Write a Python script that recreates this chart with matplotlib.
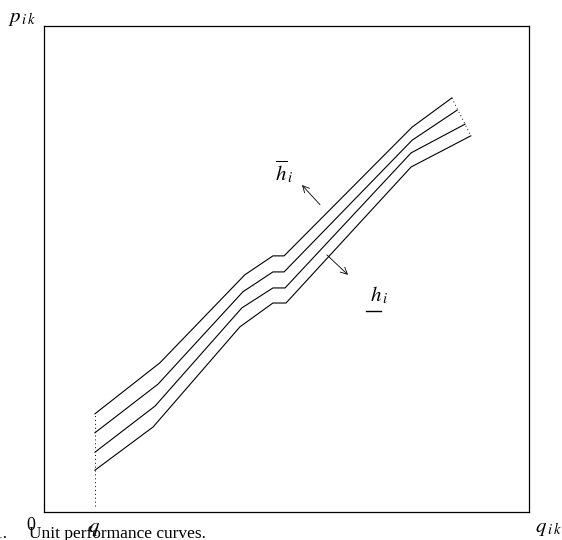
import matplotlib
matplotlib.use('Agg')
import matplotlib.pyplot as plt
from matplotlib.lines import Line2D

plt.rcParams['font.family'] = ['Liberation Serif', 'DejaVu Serif']
plt.rcParams['mathtext.fontset'] = 'stix'

# ── Piecewise-linear unit performance curves (q, p), 0-100 scale ───────────
Q_TOP = [10.5, 23.9, 41.4, 47.2, 49.5, 75.9, 84.1]
P_TOP = [20.2, 30.7, 48.8, 52.7, 52.7, 79.2, 85.2]

Q_2 = [10.5, 23.5, 41.0, 47.2, 49.5, 75.9, 85.2]
P_2 = [16.3, 26.3, 45.3, 49.4, 49.4, 76.5, 82.7]

Q_3 = [10.5, 22.9, 40.8, 47.2, 49.7, 75.7, 86.8]
P_3 = [12.3, 21.8, 42.0, 46.1, 46.1, 73.9, 79.8]

Q_BOT = [10.5, 22.5, 40.4, 47.2, 49.9, 75.7, 88.0]
P_BOT = [8.6, 17.5, 38.1, 43.0, 43.0, 71.0, 77.4]

CURVES = [(Q_TOP, P_TOP), (Q_2, P_2), (Q_3, P_3), (Q_BOT, P_BOT)]

# minimum output q and the lower end of the dotted guide
Q_MIN = 10.5
P_FLOOR = 1.2

# arrows: (tail, head) for upper and lower envelope
ARROW_UP = ((57.3, 62.8), (52.8, 67.7))
ARROW_DN = ((57.9, 53.3), (63.1, 48.4))

fig = plt.figure(figsize=(5.62, 5.40), dpi=100)
ax = fig.add_axes([44 / 562, 28 / 540, 485 / 562, 486 / 540])
ax.set_xlim(0, 100)
ax.set_ylim(0, 100)
ax.set_xticks([])
ax.set_yticks([])
for s in ax.spines.values():
    s.set_linewidth(0.9)

for q, p in CURVES:
    ax.plot(q, p, color='black', linewidth=0.8)

# dotted vertical line at q min
ax.plot([Q_MIN, Q_MIN], [P_FLOOR, P_TOP[0]], color='black',
        linestyle=(0, (1, 3)), linewidth=0.7)
# dotted line joining the curve ends
ax.plot([Q_TOP[-1], Q_BOT[-1]], [P_TOP[-1], P_BOT[-1]], color='black',
        linestyle=(0, (1, 3)), linewidth=0.7)

for tail, head in (ARROW_UP, ARROW_DN):
    ax.annotate('', xy=head, xytext=tail,
                arrowprops=dict(arrowstyle='->', color='black', lw=0.6,
                                mutation_scale=12))

ax.text(49.5, 70.0, r'$\overline{h}_{\,i}$', fontsize=15,
        ha='center', va='center')
ax.text(69.0, 44.5, r'$h_{\,i}$', fontsize=15,
        ha='center', va='center')
# underline for the lower envelope label
ax.add_line(Line2D([66.4, 69.4], [41.3, 41.3], color='black', linewidth=1.0))

fig.text(8 / 562, 1 - 22 / 540, r'$p_{\,i\,k}$', fontsize=15,
         ha='left', va='baseline')
fig.text(535 / 562, 1 - 532 / 540, r'$q_{\,i\,k}$', fontsize=15,
         ha='left', va='baseline')
fig.text(31 / 562, 1 - 530 / 540, '0', fontsize=13,
         ha='center', va='baseline')
fig.text(88 / 562, 1 - 532 / 540, r'$q$', fontsize=15,
         ha='left', va='baseline')
fig.text(-6 / 562, 1 - 538 / 540, '1.     Unit performance curves.',
         fontsize=12.5, ha='left', va='baseline')

fig.savefig('out.png', dpi=100)
